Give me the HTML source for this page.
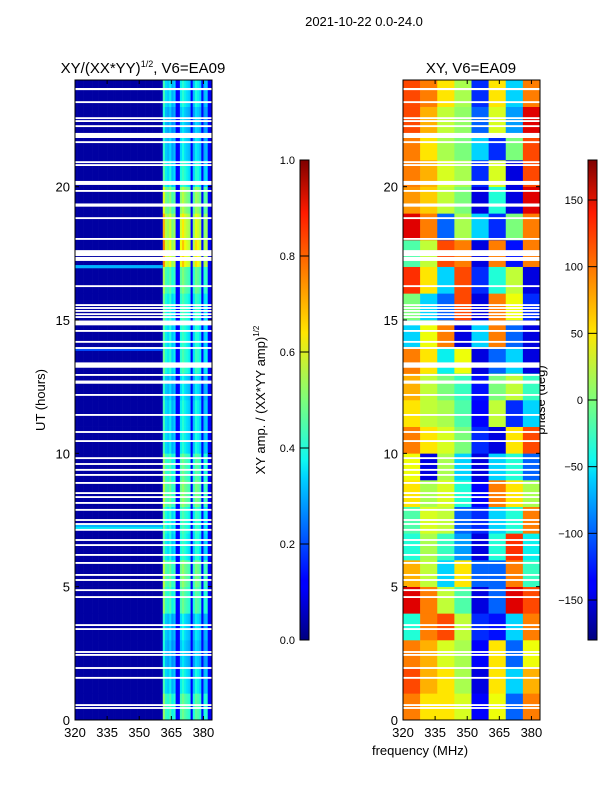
<!DOCTYPE html>
<html><head><meta charset="utf-8">
<style>
html,body{margin:0;padding:0;background:#fff;}
svg{display:block;font-family:"Liberation Sans","DejaVu Sans",sans-serif;}
</style></head>
<body>
<svg id="fig" width="600" height="800" viewBox="0 0 600 800" xmlns="http://www.w3.org/2000/svg">
<defs>
<linearGradient id="jetv" x1="0" y1="1" x2="0" y2="0">
<stop offset="0" stop-color="#00007f"/><stop offset="0.11" stop-color="#0000ff"/><stop offset="0.125" stop-color="#0000ff"/>
<stop offset="0.34" stop-color="#00d4ff"/><stop offset="0.375" stop-color="#0ff8f0"/><stop offset="0.5" stop-color="#7dff7a"/>
<stop offset="0.64" stop-color="#ffe600"/><stop offset="0.66" stop-color="#ffd500"/><stop offset="0.89" stop-color="#ff1a00"/><stop offset="1" stop-color="#7f0000"/>
</linearGradient>
</defs>
<text x="364" y="26" font-size="13" text-anchor="middle">2021-10-22 0.0-24.0</text>
<text x="143" y="73" font-size="15" text-anchor="middle">XY/(XX*YY)<tspan font-size="9" dy="-6">1/2</tspan><tspan dy="6">, V6=EA09</tspan></text>
<text x="471" y="73" font-size="15" text-anchor="middle">XY, V6=EA09</text>
<text transform="translate(45,400) rotate(-90)" font-size="13" text-anchor="middle">UT (hours)</text>
<text transform="translate(265,400) rotate(-90)" font-size="13" text-anchor="middle">XY amp. / (XX*YY amp)<tspan font-size="8" dy="-6">1/2</tspan></text>
<text transform="translate(545,400) rotate(-90)" font-size="13" text-anchor="middle">phase (deg)</text>
<text x="420" y="755" font-size="13" text-anchor="middle">frequency (MHz)</text>
<g id="plots"></g>
</svg>
<script>
// ---- data ----
const freqMin = 320, freqMax = 384, hourMin = 0, hourMax = 24;
const xTicks = [320, 335, 350, 365, 380];
const yTicks = [0, 5, 10, 15, 20];
const ampTicks = [0.0, 0.2, 0.4, 0.6, 0.8, 1.0];
const phaseTicks = [-150, -100, -50, 0, 50, 100, 150];
// left panel: amplitude profile per 1 MHz channel (320..383)
const ampProfile = [0.03,0.03,0.03,0.03,0.03,0.03,0.03,0.03,0.03,0.03,0.03,0.03,0.03,0.03,0.03,0.03,0.03,0.03,0.03,0.03,
 0.03,0.03,0.03,0.03,0.03,0.03,0.03,0.03,0.03,0.03,0.03,0.03,0.03,0.03,0.03,0.03,0.03,0.03,0.03,0.03,
 0.05,0.48,0.38,0.36,0.4,0.33,0.36,0.12,0.13,0.4,0.44,0.4,0.38,0.36,0.12,0.35,0.42,0.4,0.37,0.13,0.34,0.36,0.12,0.1];
// per-hour multiplier for bright channels (hour 0..23)
const ampHourScale = [1.1,0.9,0.8,0.85,1.1,1.2,0.95,1.0,1.2,1.1,0.9,0.9,0.85,1.0,0.95,1.0,1.15,1.6,1.5,1.3,0.95,0.85,0.8,0.9];
// RFI rows across band: hour, amplitude
const rfiHours = [7.2, 7.3, 17.0, 13.9];
const rfiAmps = [0.35, 0.3, 0.3, 0.2];
// flagged (blank) rows: centre hour and width in hours
const flagHours = [23.66,23.17,22.57,22.46,22.27,21.92,21.67,20.92,20.81,20.14,19.84,19.31,18.82,18.04,17.51,17.29,16.27,15.56,15.45,15.34,15.22,15.11,14.89,14.59,14.18,13.95,13.31,12.94,12.67,12.19,11.44,10.8,10.46,9.82,9.6,9.38,9.19,8.89,8.51,8.36,8.14,7.88,7.5,7.35,7.13,6.75,6.56,6.19,5.89,5.44,5.25,4.87,4.61,3.56,3.41,2.55,2.44,1.95,1.58,0.56,0.45];
const flagWidths = [0.08,0.07,0.07,0.07,0.07,0.19,0.07,0.07,0.07,0.15,0.07,0.12,0.07,0.07,0.22,0.15,0.07,0.07,0.07,0.07,0.07,0.07,0.18,0.07,0.07,0.07,0.2,0.07,0.12,0.07,0.07,0.07,0.07,0.07,0.07,0.07,0.07,0.07,0.07,0.07,0.07,0.07,0.07,0.07,0.07,0.07,0.07,0.07,0.07,0.07,0.07,0.07,0.07,0.07,0.07,0.07,0.07,0.07,0.07,0.07,0.07];
// right panel: phase (deg) per hour (rows 0..23) x 8 freq bins of 8 MHz
const phaseGrid = [
 [100,60,60,40,-140,50,-100,100],
 [120,80,60,20,-150,60,-60,80],
 [100,80,40,20,-140,60,-100,50],
 [-40,100,120,30,-120,-130,-60,100],
 [150,100,30,-20,-150,-100,150,120],
 [80,30,-60,60,-100,-100,100,-30],
 [-40,20,-30,-80,-150,-40,130,-50],
 [-20,40,30,-100,-120,-60,-40,100],
 [60,20,40,-40,-140,100,60,20],
 [50,-150,20,-60,-150,-60,-40,-100],
 [100,60,40,0,-120,-150,60,120],
 [60,30,20,-20,-140,30,-120,-60],
 [80,30,0,-30,-130,0,30,-30],
 [100,60,-50,50,-150,-100,-60,-150],
 [-60,50,100,-150,-60,100,-100,-150],
 [0,-60,-100,120,-150,100,50,-120],
 [130,60,-60,120,-120,-40,30,-150],
 [-20,30,120,100,-150,100,-130,100],
 [150,100,-100,20,-60,-120,0,100],
 [90,70,30,0,-150,-40,-150,150],
 [100,80,40,20,-120,40,-150,120],
 [100,60,20,0,-60,-120,0,120],
 [120,80,30,10,-100,40,-80,150],
 [120,100,60,20,-120,60,-60,100]
];
// ---- helpers ----
const NS = "http://www.w3.org/2000/svg";
function lerpSeg(x, pts){for(let i=1;i<pts.length;i++){if(x<=pts[i][0]){const a=pts[i-1],b=pts[i];const t=(x-a[0])/(b[0]-a[0]||1);return a[1]+t*(b[1]-a[1]);}}return pts[pts.length-1][1];}
function jet(v){v=Math.max(0,Math.min(1,v));
 const r=lerpSeg(v,[[0,0],[0.35,0],[0.66,1],[0.89,1],[1,0.5]]);
 const g=lerpSeg(v,[[0,0],[0.125,0],[0.375,1],[0.64,1],[0.91,0],[1,0]]);
 const b=lerpSeg(v,[[0,0.5],[0.11,1],[0.34,1],[0.65,0],[1,0]]);
 return `rgb(${Math.round(r*255)},${Math.round(g*255)},${Math.round(b*255)})`;}
const plotTop=80, plotBot=720;
function yScale(h){return plotBot-(h-hourMin)/(hourMax-hourMin)*(plotBot-plotTop);}
function makeX(left,right){return f=>left+(f-freqMin)/(freqMax-freqMin)*(right-left);}
function el(tag,attrs,parent){const e=document.createElementNS(NS,tag);for(const k in attrs)e.setAttribute(k,attrs[k]);parent.appendChild(e);return e;}
const root=document.getElementById('plots');

function drawAxes(g,left,right,xS,prefix){
 const frame=el('rect',{x:left,y:plotTop,width:right-left,height:plotBot-plotTop,fill:'none',stroke:'#000','stroke-width':1},g);
 
 
 xTicks.forEach(t=>{const x=xS(t);
  el('line',{x1:x,y1:plotBot,x2:x,y2:plotBot-4,stroke:'#000'},g);
  el('line',{x1:x,y1:plotTop,x2:x,y2:plotTop+4,stroke:'#000'},g);
  const tx=el('text',{x:x,y:plotBot+17,'font-size':13,'text-anchor':'middle'},g);tx.textContent=t;
  
  });
 yTicks.forEach(t=>{const y=yScale(t);
  el('line',{x1:left,y1:y,x2:left+4,y2:y,stroke:'#000'},g);
  el('line',{x1:right,y1:y,x2:right-4,y2:y,stroke:'#000'},g);
  const tx=el('text',{x:left-5,y:y+5,'font-size':13,'text-anchor':'end'},g);tx.textContent=t;
  
  });
}
function drawFlags(g,left,right){
 flagHours.forEach((h,i)=>{const w=flagWidths[i];
  const r=el('rect',{x:left,y:yScale(h+w/2),width:right-left,height:Math.max(1.5,yScale(h-w/2)-yScale(h+w/2)),fill:'#fff'},g);
  
  });
}
// ---- left panel ----
(function(){
 const left=75,right=212,xS=makeX(left,right);
 const g=el('g',{},root);
 
 
 for(let hr=0;hr<24;hr++){
  ampProfile.forEach((a,c)=>{
   const v=a>0.2?a*ampHourScale[hr]:a;
   const x0=xS(freqMin+c),x1=xS(freqMin+c+1);
   const r=el('rect',{x:x0,y:yScale(hr+1),width:x1-x0+0.3,height:yScale(hr)-yScale(hr+1)+0.3,fill:jet(v)},g);
   
   
  });
 }
 rfiHours.forEach((h,i)=>{
  const r=el('rect',{x:xS(freqMin),y:yScale(h+0.06),width:xS(361)-xS(freqMin),height:yScale(h-0.06)-yScale(h+0.06),fill:jet(rfiAmps[i])},g);
  
  
 });
 drawFlags(g,left,right);
 drawAxes(g,left,right,xS,'left');
 const cb=el('rect',{x:300,y:160,width:9,height:480,fill:'url(#jetv)',stroke:'#000','stroke-width':1},root);
 
 
 ampTicks.forEach(t=>{const y=640-t*480;
  el('line',{x1:300,y1:y,x2:309,y2:y,stroke:'#000'},root);
  const tx=el('text',{x:295,y:y+4,'font-size':11,'text-anchor':'end'},root);tx.textContent=t.toFixed(1);
  
  });
})();
// ---- right panel ----
(function(){
 const left=403,right=540,xS=makeX(left,right);
 const g=el('g',{},root);
 
 
 phaseGrid.forEach((row,hr)=>{
  row.forEach((p,c)=>{
   const f0=freqMin+c*8;
   const x0=xS(f0),x1=xS(f0+8);
   const r=el('rect',{x:x0,y:yScale(hr+1),width:x1-x0+0.3,height:yScale(hr)-yScale(hr+1)+0.3,fill:jet((p+180)/360)},g);
   
   
  });
 });
 drawFlags(g,left,right);
 drawAxes(g,left,right,xS,'right');
 const cb=el('rect',{x:588,y:160,width:9,height:480,fill:'url(#jetv)',stroke:'#000','stroke-width':1},root);
 
 
 phaseTicks.forEach(t=>{const y=640-(t+180)/360*480;
  el('line',{x1:588,y1:y,x2:597,y2:y,stroke:'#000'},root);
  const tx=el('text',{x:583,y:y+4,'font-size':11,'text-anchor':'end'},root);tx.textContent=(t<0?'\u2212'+(-t):t);
  
  });
})();
</script>
</body></html>
